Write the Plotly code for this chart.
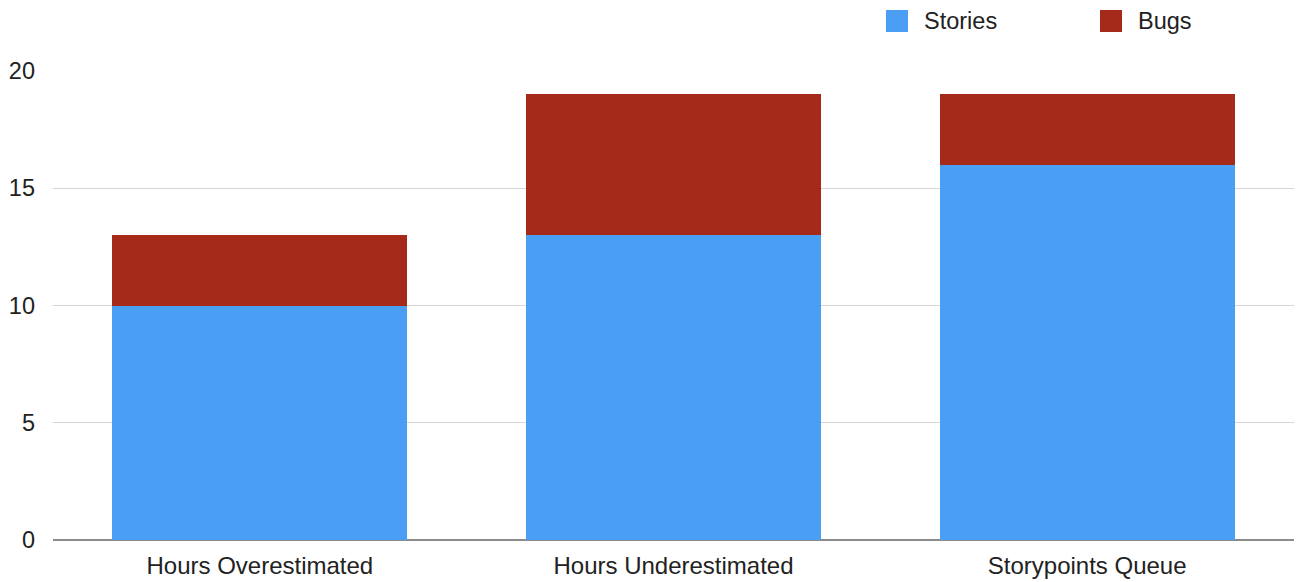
import plotly.graph_objects as go

# Data
categories = ["Hours Overestimated", "Hours Underestimated", "Storypoints Queue"]
stories = [10, 13, 16]
bugs = [3, 6, 3]
series_names = ["Stories", "Bugs"]
series_colors = ["#4a9ff5", "#a52a19"]
y_ticks = [0, 5, 10, 15, 20]

W, H = 1300, 582
M = dict(l=53, r=6, t=71, b=42)
FONT = "Liberation Sans, Arial, Helvetica, sans-serif"

fig = go.Figure()
for name, vals, col in zip(series_names, [stories, bugs], series_colors):
    fig.add_trace(go.Bar(
        x=categories, y=vals, name=name,
        marker=dict(color=col, line=dict(width=0)),
        showlegend=False,
    ))

# Custom legend drawn above the plot (pixel positions converted to paper units)
pw = W - M["l"] - M["r"]
ph = H - M["t"] - M["b"]


def px_x(px):
    return (px - M["l"]) / pw


def px_y(py):
    return (H - M["b"] - py) / ph


legend_x = [886, 1100]
shapes = []
annotations = []
for name, col, lx in zip(series_names, series_colors, legend_x):
    shapes.append(dict(
        type="rect", xref="paper", yref="paper",
        x0=px_x(lx), x1=px_x(lx + 22), y0=px_y(32), y1=px_y(10),
        fillcolor=col, line=dict(width=0),
    ))
    annotations.append(dict(
        text=name, xref="paper", yref="paper",
        x=px_x(lx + 36), y=px_y(21), xanchor="left", yanchor="middle",
        showarrow=False, font=dict(size=23.5, color="#222222", family=FONT),
    ))

fig.update_layout(
    width=W, height=H,
    margin=M,
    barmode="stack",
    bargap=0.287,
    plot_bgcolor="white",
    paper_bgcolor="white",
    font=dict(family=FONT, size=23, color="#222222"),
    shapes=shapes,
    annotations=annotations,
    xaxis=dict(
        showgrid=False, showline=False, zeroline=False,
        ticks="", tickfont=dict(size=24, color="#222222"),
        ticklabelstandoff=9, automargin=False,
    ),
    yaxis=dict(
        range=[0, 20], tickvals=y_ticks,
        showgrid=True, gridcolor="#d6d6d6", gridwidth=1,
        zeroline=True, zerolinecolor="#8c8c8c", zerolinewidth=1.5,
        showline=False, ticks="", automargin=False,
        tickfont=dict(size=23.5, color="#222222"),
        ticklabelstandoff=17,
    ),
)

fig.write_html("out.html")
